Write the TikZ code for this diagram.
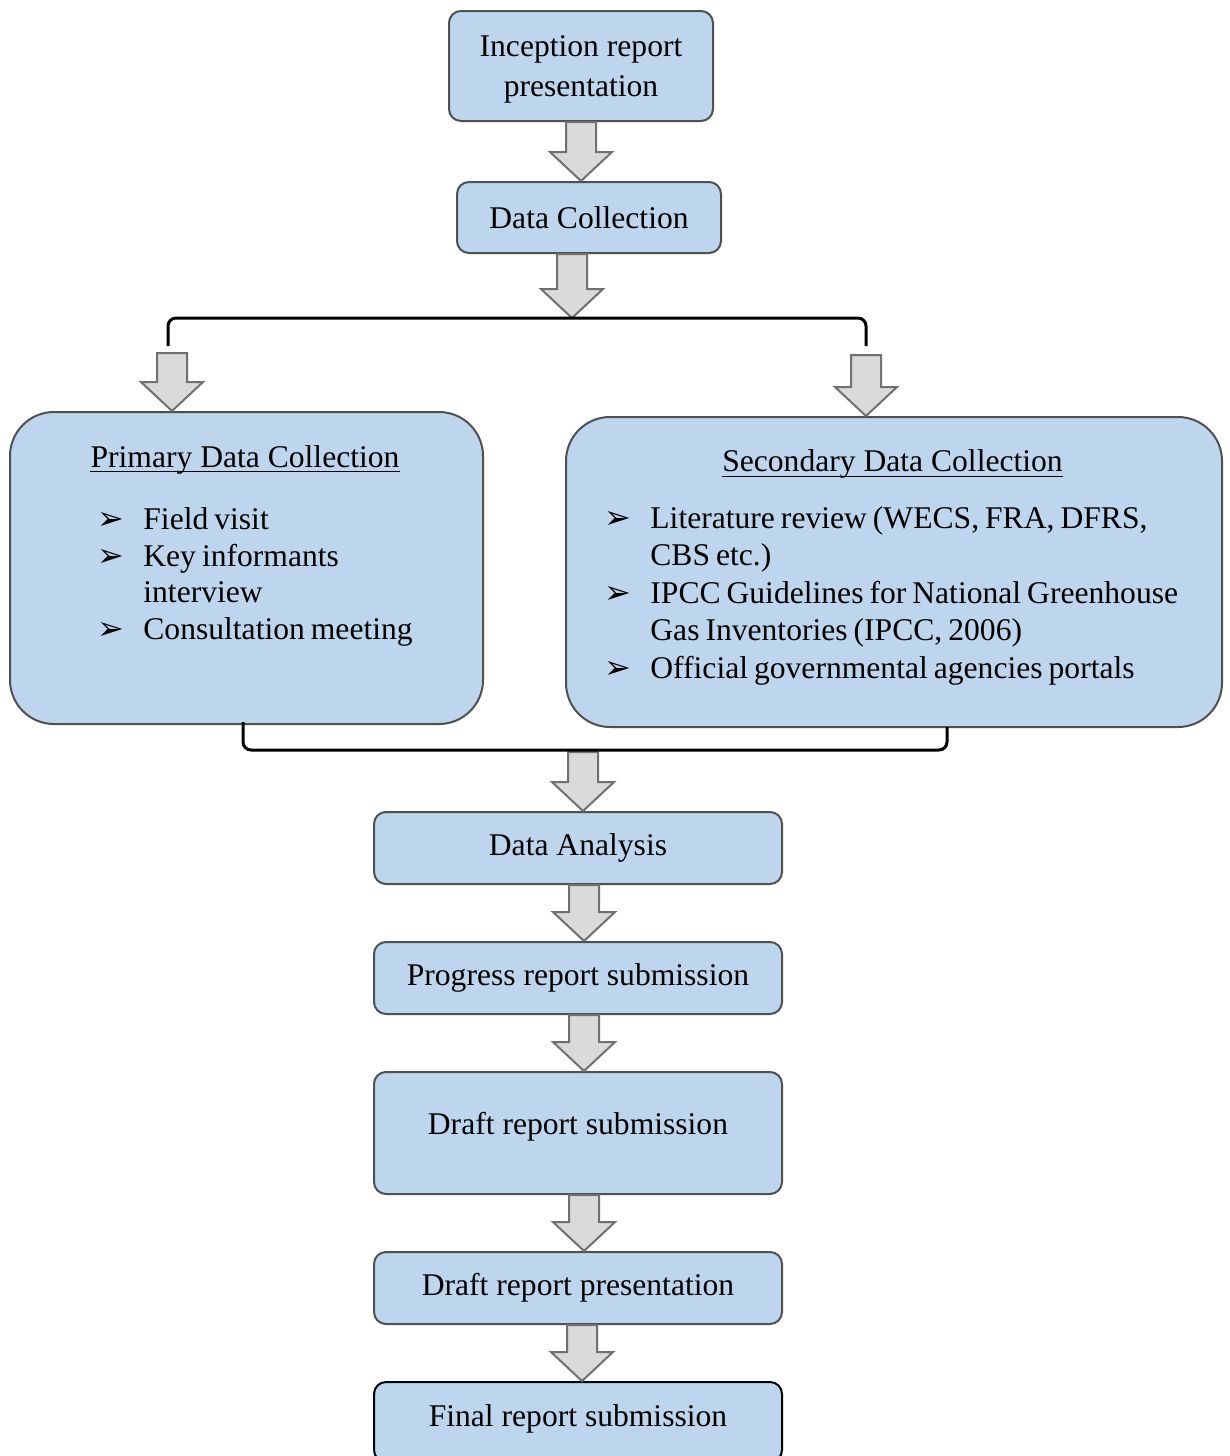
\documentclass[tikz,border=0pt]{standalone}
\usepackage{fontspec}
\setmainfont{Liberation Serif}
\newfontfamily\symfont{DejaVu Sans}
\usetikzlibrary{calc}

\definecolor{boxblue}{RGB}{189,214,238}
\definecolor{boxline}{RGB}{80,80,80}
\definecolor{arrowgray}{RGB}{218,218,218}
\definecolor{arrowline}{RGB}{112,112,112}

\tikzset{
  stage/.style={draw=boxline, fill=boxblue, line width=1pt, rounded corners=6pt,
    minimum width=204pt, minimum height=36pt, inner sep=0pt,
    font=\fontsize{15.8}{17.6}\selectfont},
  bigbox/.style={draw=boxline, fill=boxblue, line width=1pt, rounded corners=22pt, inner sep=0pt},
  blockarrow/.style={draw=arrowline, fill=arrowgray, line width=1pt, line join=miter},
  bracket/.style={line width=1.5pt, rounded corners=4pt},
  headtext/.style={anchor=base, inner sep=0pt, font=\fontsize{15.8}{17.6}\selectfont},
  listtext/.style={anchor=north west, inner sep=0pt, text width=#1,
    font=\fontsize{15.8}{18.2}\selectfont},
  underl/.style={line width=0.65pt}
}

\newcommand\bulletitem{\par\noindent\hangindent=23pt\hangafter=1%
  \makebox[23pt][l]{\symfont\bfseries\fontsize{16}{16}\selectfont ➢}}

\newcommand\blockdown[2]{%
  \draw[blockarrow] let \p1=(#1), \p2=(#2) in
    (\x1-7.5pt,\y1) -- (\x1-7.5pt,\y2+14.5pt) -- (\x1-15.5pt,\y2+14.5pt) -- (\x1,\y2)
    -- (\x1+15.5pt,\y2+14.5pt) -- (\x1+7.5pt,\y2+14.5pt) -- (\x1+7.5pt,\y1) -- cycle;}

\begin{document}
\begin{tikzpicture}[x=0.5pt,y=-0.5pt]
\useasboundingbox (0,0) rectangle (1230,1456);
\clip (0,0) rectangle (1230,1456);

\node[stage, minimum width=132pt, minimum height=55pt, align=center, text depth=0pt,
  font=\fontsize{15.8}{20}\selectfont] (inc) at (581,66) {Inception report\\presentation};
\node[stage, minimum width=132pt, minimum height=35.5pt] (dcol) at (589,217.5) {Data Collection};

\node[bigbox, minimum width=236.5pt, minimum height=156pt] (pri) at (246.5,568) {};
\node[bigbox, minimum width=328pt, minimum height=155pt] (sec) at (894,572) {};

\node[stage] (ana) at (578,848) {Data Analysis};
\node[stage] (prog) at (578,978) {Progress report submission};
\node[stage, minimum height=61pt, text depth=9.4pt] (drsub) at (578,1133) {Draft report submission};
\node[stage] (drpre) at (578,1288) {Draft report presentation};
\node[stage, draw=black, minimum height=40pt, text depth=6.4pt] (fin) at (578,1422) {Final report submission};

% headings and lists
\node[headtext] (ptitle) at (245,467) {Primary Data Collection};
\draw[underl] ([yshift=-2.25pt]ptitle.base west) -- ([yshift=-2.25pt]ptitle.base east);
\node[listtext=170pt] (plist) at (97,493) {%
  \spaceskip=3pt plus 1pt minus 1pt
  \bulletitem Field visit
  \bulletitem Key informants\newline interview
  \bulletitem Consultation meeting\par};

\node[headtext] (stitle) at (892.5,471.7) {Secondary Data Collection};
\draw[underl] ([yshift=-2.25pt]stitle.base west) -- ([yshift=-2.25pt]stitle.base east);
\node[listtext=300pt] (slist) at (604,490) {\setlength\parskip{1pt}%
  \spaceskip=3pt plus 1pt minus 1pt
  \bulletitem Literature review (WECS, FRA, DFRS,\newline CBS etc.)
  \bulletitem IPCC Guidelines for National Greenhouse\newline Gas Inventories (IPCC, 2006)
  \bulletitem Official governmental agencies portals\par};

% brackets
\coordinate (brl) at (168,346);
\coordinate (brr) at (866,346);
\coordinate (brt) at (572,318);
\coordinate (al) at (172,353);
\coordinate (ar) at (866,355);
\coordinate (bbl) at (243,722);
\coordinate (bbr) at (947,727);
\coordinate (bbm) at (583,750);

% arrows
\blockdown{inc.south}{dcol.north}
\blockdown{[xshift=-8.5pt]dcol.south}{brt}
\blockdown{al}{pri.north}
\blockdown{ar}{sec.north}
\blockdown{[yshift=-1pt]bbm}{ana.north}
\blockdown{[xshift=3pt]ana.south}{prog.north}
\blockdown{[xshift=3pt]prog.south}{drsub.north}
\blockdown{[xshift=3pt]drsub.south}{drpre.north}
\blockdown{[xshift=2pt]drpre.south}{fin.north}

\draw[bracket] (brl) |- (brt) -| (brr);
\draw[bracket] (bbl) |- (bbm) -| (bbr);

\end{tikzpicture}
\end{document}
